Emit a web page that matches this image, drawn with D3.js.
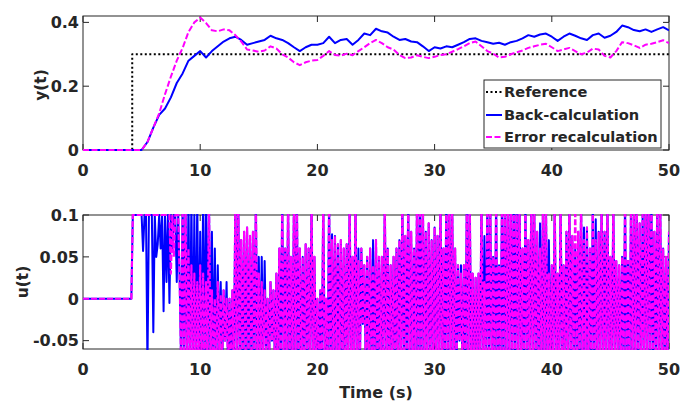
<!DOCTYPE html>
<html><head><meta charset="utf-8">
<script src="https://cdn.jsdelivr.net/npm/d3@7"></script>
<style>body{margin:0;background:#fff}svg{display:block}text{font-family:"DejaVu Sans",sans-serif;font-weight:bold;fill:#262626}</style>
</head><body><svg id="c" width="680" height="403"></svg>
<script>
// ---- data ----
const refT = [0, 4.2, 4.2, 50];
const refY = [0, 0, 0.3, 0.3];
const yStep = 0.5; // sample spacing (s) for y(t)
const yBack = [0,0,0,0,0,0,0,0,0,0,0,
 0.025,0.07,0.11,0.13,0.165,0.21,0.24,0.28,0.295,0.31,0.29,0.31,0.325,0.34,0.35,0.355,0.345,0.33,0.335,0.34,
 0.345,0.358,0.35,0.345,0.335,0.322,0.31,0.322,0.33,0.33,0.335,0.355,0.335,0.345,0.348,0.33,0.345,0.365,0.36,0.38,
 0.372,0.368,0.355,0.345,0.348,0.34,0.338,0.325,0.31,0.322,0.318,0.325,0.322,0.33,0.338,0.348,0.35,0.342,0.338,0.333,
 0.336,0.33,0.338,0.342,0.35,0.36,0.355,0.362,0.365,0.355,0.342,0.355,0.365,0.358,0.35,0.345,0.36,0.365,0.352,0.358,
 0.37,0.39,0.385,0.376,0.372,0.378,0.37,0.378,0.385,0.375];
const yErr = [0,0,0,0,0,0,0,0,0,0,0,
 0.025,0.07,0.115,0.175,0.23,0.28,0.32,0.37,0.40,0.415,0.398,0.375,0.372,0.378,0.375,0.36,0.34,0.315,0.312,0.308,
 0.312,0.325,0.318,0.30,0.29,0.275,0.266,0.275,0.28,0.282,0.295,0.31,0.298,0.296,0.302,0.297,0.31,0.322,0.335,0.345,
 0.335,0.322,0.315,0.298,0.288,0.29,0.297,0.292,0.288,0.292,0.298,0.30,0.308,0.316,0.325,0.335,0.34,0.325,0.31,0.302,
 0.29,0.292,0.30,0.306,0.312,0.32,0.325,0.33,0.333,0.322,0.31,0.315,0.32,0.31,0.30,0.305,0.318,0.315,0.295,0.29,
 0.31,0.338,0.335,0.328,0.32,0.33,0.333,0.338,0.344,0.335];

const uStep = 0.125; // sample spacing (s) for u(t)
const uBack = [
 0,0,0,0,0,0,0,0,0,0,0,0,0,0,0,0, 0,0,0,0,0,0,0,0,0,0,0,0,0,0,0,0, 0,0,
 .1,.1,.1,.1,.1,.1,.1,.057,.1,.1,-.08,.1,.1,.1,-.04,.1,.05,.065,.1,.06,.1,-.015,.1,.02,.1,-.005,.1,.06,.1,.1,.02,.1,.02,-.08,
 .12,-.08,.12,-.08,.12,-.08,.12,-.08,.1,-.08,.12,-.08,.08,-.08,.12,-.08,
 .12,-.08,.12,-.08,.08,-.08,.06,-.08,.04,-.06,.02,-.08,.01,-.05,.02,-.08,
 .0,-.08,.01,-.08,.12,-.08,.12,-.08,.07,-.08,.08,-.08,.085,-.08,.075,-.08,
 .08,-.08,.12,-.08,.05,-.08,.05,-.07,.045,-.06,.0,-.08,.02,-.05,.01,-.08,
 .03,-.08,.06,-.08,.12,-.08,.06,-.08,.12,-.08,.05,-.08,.12,-.08,.12,-.08,
 .06,-.08,.05,-.08,.065,-.08,.06,-.08,.12,-.08,.05,-.08,.0,-.08,.01,-.08,
 .12,-.08,.0,-.08,.12,-.08,.077,-.08,.075,-.08,.065,-.08,.07,-.08,.06,-.08,
 .065,-.08,.12,-.08,.05,-.08,.12,-.08,.06,-.08,.06,-.03,.04,-.08,.05,-.08,
 .06,-.08,.07,-.08,.07,-.08,.05,-.08,.05,-.08,.12,-.08,.06,-.08,.04,-.08,
 .05,-.08,.06,-.08,.07,-.08,.12,-.08,.075,-.08,.12,-.08,.08,-.08,.06,-.08,
 .12,-.08,.12,-.08,.12,-.08,.08,-.08,.09,-.08,.07,-.08,.085,-.08,.075,-.08,
 .12,-.08,.06,-.08,.12,-.08,.12,-.08,.12,-.08,.06,-.08,.04,-.05,.04,-.08,
 .04,-.08,.12,-.08,.12,-.08,.03,-.08,.025,-.08,.03,-.08,.12,-.08,.075,-.08,
 .12,-.08,.12,-.08,.05,-.08,.12,-.08,.04,-.08,.12,-.08,.12,-.08,.12,-.08,
 .12,-.08,.12,-.08,.12,-.08,.12,-.08,.06,-.08,.12,-.08,.07,-.08,.12,-.08,
 .12,-.08,.08,-.08,.09,-.08,.12,-.08,.12,-.08,.07,-.08,.04,-.08,.12,-.08,
 .03,-.08,.12,-.08,.04,-.08,.08,-.08,.12,-.08,.075,-.08,.06,-.08,.08,-.08,
 .12,-.08,.085,-.08,.085,-.08,.06,-.08,.12,-.08,.095,-.08,.08,-.08,.12,-.08,
 .08,-.08,.12,-.08,.05,-.08,.12,-.08,.045,-.06,.04,-.08,.05,-.08,.12,-.08,
 .045,-.08,.1,-.08,.12,-.08,.12,-.08,.09,-.08,.1,-.08,.12,-.08,.12,-.08,
 .12,-.08,.08,-.08,.12,-.08,.12,-.08,.06,-.08,.05,-.08,.08];
const uErr = [
 0,0,0,0,0,0,0,0,0,0,0,0,0,0,0,0, 0,0,0,0,0,0,0,0,0,0,0,0,0,0,0,0, 0,0,
 .1,.1,.1,.1,.1,.1,.1,.1,.1,.1,.1,.1,.1,.1,.1,.1,.1,.1,.1,.1,.1,.1,.1,.1,.1,.1,.03,.1,.05,.1,.1,.1,.02,-.08,
 .12,-.08,.12,-.08,.06,-.08,.04,-.08,.03,-.08,.02,-.08,.04,-.08,.03,-.08,
 .02,-.08,.12,-.08,.01,-.08,.0,-.08,.02,-.06,.005,-.08,.01,-.05,.0,-.08,
 .0,-.08,.01,-.08,.12,-.08,.12,-.08,.07,-.08,.08,-.08,.085,-.08,.075,-.08,
 .08,-.08,.12,-.08,.03,-.08,.02,-.07,.01,-.06,.0,-.08,.02,-.05,.01,-.08,
 .03,-.08,.06,-.08,.12,-.08,.06,-.08,.12,-.08,.05,-.08,.12,-.08,.12,-.08,
 .06,-.08,.05,-.08,.065,-.08,.06,-.08,.12,-.08,.05,-.08,.0,-.08,.01,-.08,
 .12,-.08,.0,-.08,.12,-.08,.07,-.08,.075,-.08,.065,-.08,.07,-.08,.06,-.08,
 .065,-.08,.12,-.08,.05,-.08,.12,-.08,.045,-.08,.06,-.03,.04,-.08,.05,-.08,
 .06,-.08,.04,-.08,.07,-.08,.05,-.08,.05,-.08,.12,-.08,.06,-.08,.04,-.08,
 .05,-.08,.06,-.08,.07,-.08,.12,-.08,.075,-.08,.12,-.08,.08,-.08,.06,-.08,
 .12,-.08,.12,-.08,.12,-.08,.08,-.08,.09,-.08,.07,-.08,.085,-.08,.075,-.08,
 .12,-.08,.06,-.08,.12,-.08,.12,-.08,.12,-.08,.06,-.08,.04,-.05,.03,-.08,
 .04,-.08,.12,-.08,.12,-.08,.03,-.08,.025,-.08,.03,-.08,.12,-.08,.02,-.08,
 .12,-.08,.12,-.08,.05,-.08,.12,-.08,.04,-.08,.12,-.08,.12,-.08,.12,-.08,
 .12,-.08,.12,-.08,.12,-.08,.12,-.08,.06,-.08,.12,-.08,.07,-.08,.12,-.08,
 .12,-.08,.08,-.08,.06,-.08,.12,-.08,.12,-.08,.03,-.08,.04,-.08,.12,-.08,
 .03,-.08,.12,-.08,.04,-.08,.08,-.08,.12,-.08,.075,-.08,.12,-.08,.08,-.08,
 .12,-.08,.07,-.08,.085,-.08,.06,-.08,.12,-.08,.07,-.08,.08,-.08,.12,-.08,
 .08,-.08,.12,-.08,.05,-.08,.12,-.08,.045,-.06,.04,-.08,.05,-.08,.12,-.08,
 .045,-.08,.1,-.08,.12,-.08,.12,-.08,.09,-.08,.1,-.08,.12,-.08,.12,-.08,
 .12,-.08,.08,-.08,.12,-.08,.12,-.08,.06,-.08,.05,-.08,.08];
const xTicks = [0,10,20,30,40,50];
const yTicksTop = [0,0.2,0.4];
const yTicksBot = [-0.05,0,0.05,0.1];
const legendLabels = ["Reference","Back-calculation","Error recalculation"];

// ---- layout ----
const svg = d3.select("#c");
const L = 83, R = 669;
const axTop = {top:16, bottom:150, dom:[0,0.42]};
const axBot = {top:215, bottom:349, dom:[-0.06,0.1]};
const x = d3.scaleLinear().domain([0,50]).range([L,R]);
const ink = "#262626";
const tickFont = 16;

function frame(ax, yTicks, fmt, id){
  const y = d3.scaleLinear().domain(ax.dom).range([ax.bottom, ax.top]);
  const g = svg.append("g");
  svg.append("clipPath").attr("id",id).append("rect")
    .attr("x",L).attr("y",ax.top-1).attr("width",R-L).attr("height",ax.bottom-ax.top+2);
  g.append("rect").attr("x",L).attr("y",ax.top).attr("width",R-L).attr("height",ax.bottom-ax.top)
    .attr("fill","#fff").attr("stroke",ink).attr("stroke-width",1);
  xTicks.forEach(t=>{
    g.append("line").attr("x1",x(t)).attr("x2",x(t)).attr("y1",ax.bottom).attr("y2",ax.bottom-6).attr("stroke",ink);
    g.append("line").attr("x1",x(t)).attr("x2",x(t)).attr("y1",ax.top).attr("y2",ax.top+6).attr("stroke",ink);
    g.append("text").attr("x",x(t)).attr("y",ax.bottom+26).attr("text-anchor","middle").attr("font-size",tickFont).text(t);
  });
  yTicks.forEach(v=>{
    g.append("line").attr("x1",L).attr("x2",L+6).attr("y1",y(v)).attr("y2",y(v)).attr("stroke",ink);
    g.append("line").attr("x1",R).attr("x2",R-6).attr("y1",y(v)).attr("y2",y(v)).attr("stroke",ink);
    g.append("text").attr("x",L-4).attr("y",y(v)).attr("dy","0.36em").attr("text-anchor","end").attr("font-size",tickFont).text(fmt(v));
  });
  return y;
}

const fmt = v => (v===0?"0":String(v));
const yT = frame(axTop, yTicksTop, fmt, "clipT");
const yB = frame(axBot, yTicksBot, fmt, "clipB");

function draw(y, clip, ts, vs, color, dash, w){
  const line = d3.line().x(d=>x(d[0])).y(d=>y(d[1]));
  svg.append("path").attr("clip-path",`url(#${clip})`)
    .attr("d", line(ts.map((t,i)=>[t,vs[i]])))
    .attr("fill","none").attr("stroke",color).attr("stroke-width",w)
    .attr("stroke-dasharray",dash).attr("stroke-linejoin","round");
}
const tY = yBack.map((_,i)=>i*yStep);
const tU = uBack.map((_,i)=>i*uStep);

draw(yT,"clipT",refT,refY,"#000","2,2.5",2);
draw(yT,"clipT",tY,yBack,"#0000ff",null,2);
draw(yT,"clipT",tY,yErr,"#ff00ff","6,2.5",2);

draw(yB,"clipB",tU,uBack,"#0000ff",null,2);
draw(yB,"clipB",tU,uErr,"#ff00ff","6,2",2.2);

// axis labels
svg.append("text").attr("transform","translate(46,85) rotate(-90)").attr("text-anchor","middle").attr("font-size",15.5).text("y(t)");
svg.append("text").attr("transform","translate(28,282) rotate(-90)").attr("text-anchor","middle").attr("font-size",15.5).text("u(t)");
svg.append("text").attr("x",(L+R)/2).attr("y",398).attr("text-anchor","middle").attr("font-size",16).text("Time (s)");

// legend
const lg = svg.append("g");
lg.append("rect").attr("x",484).attr("y",80).attr("width",177).attr("height",68).attr("fill","#fff").attr("stroke",ink).attr("stroke-width",1);
const lgStyle = [["#000","2,2.5"],["#0000ff",null],["#ff00ff","6,2.5"]];
const rowsY = [92,115,137];
legendLabels.forEach((lab,i)=>{
  lg.append("line").attr("x1",486).attr("x2",502).attr("y1",rowsY[i]).attr("y2",rowsY[i])
    .attr("stroke",lgStyle[i][0]).attr("stroke-width",2).attr("stroke-dasharray",lgStyle[i][1]);
  lg.append("text").attr("x",504).attr("y",rowsY[i]).attr("dy","0.36em").attr("font-size",14.6).text(lab);
});
</script></body></html>
